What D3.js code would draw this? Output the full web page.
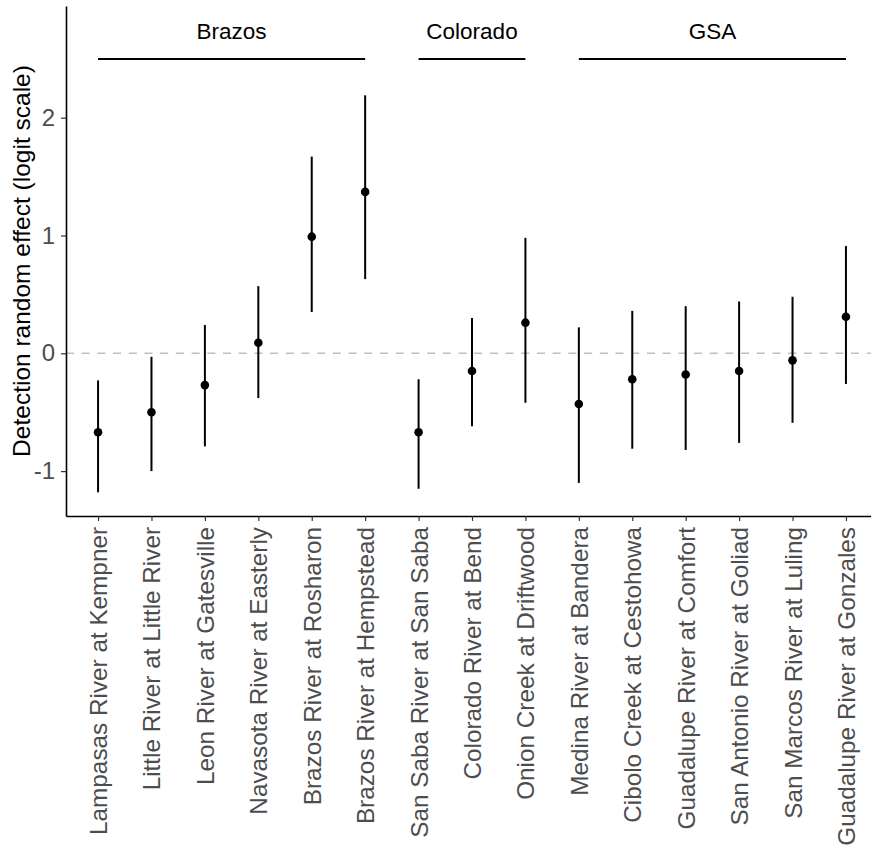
<!DOCTYPE html>
<html>
<head>
<meta charset="utf-8">
<script src="https://cdn.jsdelivr.net/npm/d3@7"></script>
<style>
  body { margin: 0; background: #fff; }
  svg { display: block; font-family: "Liberation Sans", Arial, sans-serif; }
</style>
</head>
<body>
<svg id="chart" width="871" height="849"></svg>
<script>
// sites along the x axis, in plot order
const sites = [
  "Lampasas River at Kempner", "Little River at Little River", "Leon River at Gatesville",
  "Navasota River at Easterly", "Brazos River at Rosharon", "Brazos River at Hempstead",
  "San Saba River at San Saba", "Colorado River at Bend", "Onion Creek at Driftwood",
  "Medina River at Bandera", "Cibolo Creek at Cestohowa", "Guadalupe River at Comfort",
  "San Antonio River at Goliad", "San Marcos River at Luling", "Guadalupe River at Gonzales"
];
const siteGroup = ["Brazos","Brazos","Brazos","Brazos","Brazos","Brazos",
  "Colorado","Colorado","Colorado","GSA","GSA","GSA","GSA","GSA","GSA"];
const groupNames = ["Brazos", "Colorado", "GSA"];

// estimates and interval bounds (logit scale)
const estimate = [-0.67, -0.50, -0.27, 0.09, 0.99, 1.37, -0.67, -0.15, 0.26, -0.43, -0.22, -0.18, -0.15, -0.06, 0.31];
const lower    = [-1.18, -1.00, -0.79, -0.38, 0.35, 0.63, -1.15, -0.62, -0.42, -1.10, -0.81, -0.82, -0.76, -0.59, -0.26];
const upper    = [-0.23, -0.03, 0.24, 0.57, 1.67, 2.19, -0.22, 0.30, 0.98, 0.22, 0.36, 0.40, 0.44, 0.48, 0.91];
const yTicks = [-1, 0, 1, 2];

const svg = d3.select("#chart");

let x = d3.scalePoint().domain(sites).range([66, 878]).padding(0.6);
let y = d3.scaleLinear().domain([-1.381, 2.948]).range([516, 6]);

// zero reference line
svg.append("line")
  .attr("x1", 66).attr("x2", 871)
  .attr("y1", y(0)).attr("y2", y(0))
  .attr("stroke", "#bfbfbf")
  .attr("stroke-width", 1.5)
  .attr("stroke-dasharray", "8,7.7");

// error bars
for (let i = 0; i < sites.length; i++) {
  svg.append("line")
    .attr("x1", x(sites[i])).attr("x2", x(sites[i]))
    .attr("y1", y(lower[i])).attr("y2", y(upper[i]))
    .attr("stroke", "#000")
    .attr("stroke-width", 2);
  svg.append("circle")
    .attr("cx", x(sites[i]))
    .attr("cy", y(estimate[i]))
    .attr("r", 4.3)
    .attr("fill", "#000");
}

// group brackets
groupNames.forEach(function(g) {
  let xs = sites.filter((s, i) => siteGroup[i] == g).map(s => x(s));
  let x0 = d3.min(xs), x1 = d3.max(xs);
  svg.append("line")
    .attr("x1", x0).attr("x2", x1)
    .attr("y1", 59).attr("y2", 59)
    .attr("stroke", "#000")
    .attr("stroke-width", 2);
  svg.append("text")
    .attr("x", (x0 + x1) / 2)
    .attr("y", 39)
    .attr("text-anchor", "middle")
    .style("font-size", "22.5px")
    .text(g);
});

// y axis
let yAxis = svg.append("g")
  .attr("transform", "translate(66,0)")
  .call(d3.axisLeft(y).tickValues(yTicks).tickSize(5).tickSizeOuter(0).tickPadding(6).tickFormat(d => String(d)));
yAxis.select(".domain").attr("stroke", "#000").attr("stroke-width", 1.6);
yAxis.selectAll(".tick line").attr("stroke", "#333").attr("stroke-width", 1.2);
yAxis.selectAll(".tick text")
  .attr("fill", "#4d4d4d")
  .style("font-size", "24px")
  .style("font-family", "'Liberation Sans', Arial, sans-serif");

// x axis
let xAxis = svg.append("g")
  .attr("transform", "translate(0,516)")
  .call(d3.axisBottom(x).tickSize(5).tickSizeOuter(0));
xAxis.select(".domain").attr("stroke", "#000").attr("stroke-width", 1.6);
xAxis.selectAll(".tick line").attr("stroke", "#333").attr("stroke-width", 1.2);
xAxis.selectAll(".tick text")
  .attr("fill", "#4d4d4d")
  .attr("transform", "rotate(-90)")
  .attr("text-anchor", "end")
  .attr("x", -11)
  .attr("y", 0)
  .attr("dy", "0.35em")
  .style("font-size", "24.3px")
  .style("font-family", "'Liberation Sans', Arial, sans-serif");

// y axis title
svg.append("text")
  .attr("transform", "translate(30," + ((6 + 516) / 2) + ") rotate(-90)")
  .attr("text-anchor", "middle")
  .style("font-size", "24.5px")
  .text("Detection random effect (logit scale)");
</script>
</body>
</html>
